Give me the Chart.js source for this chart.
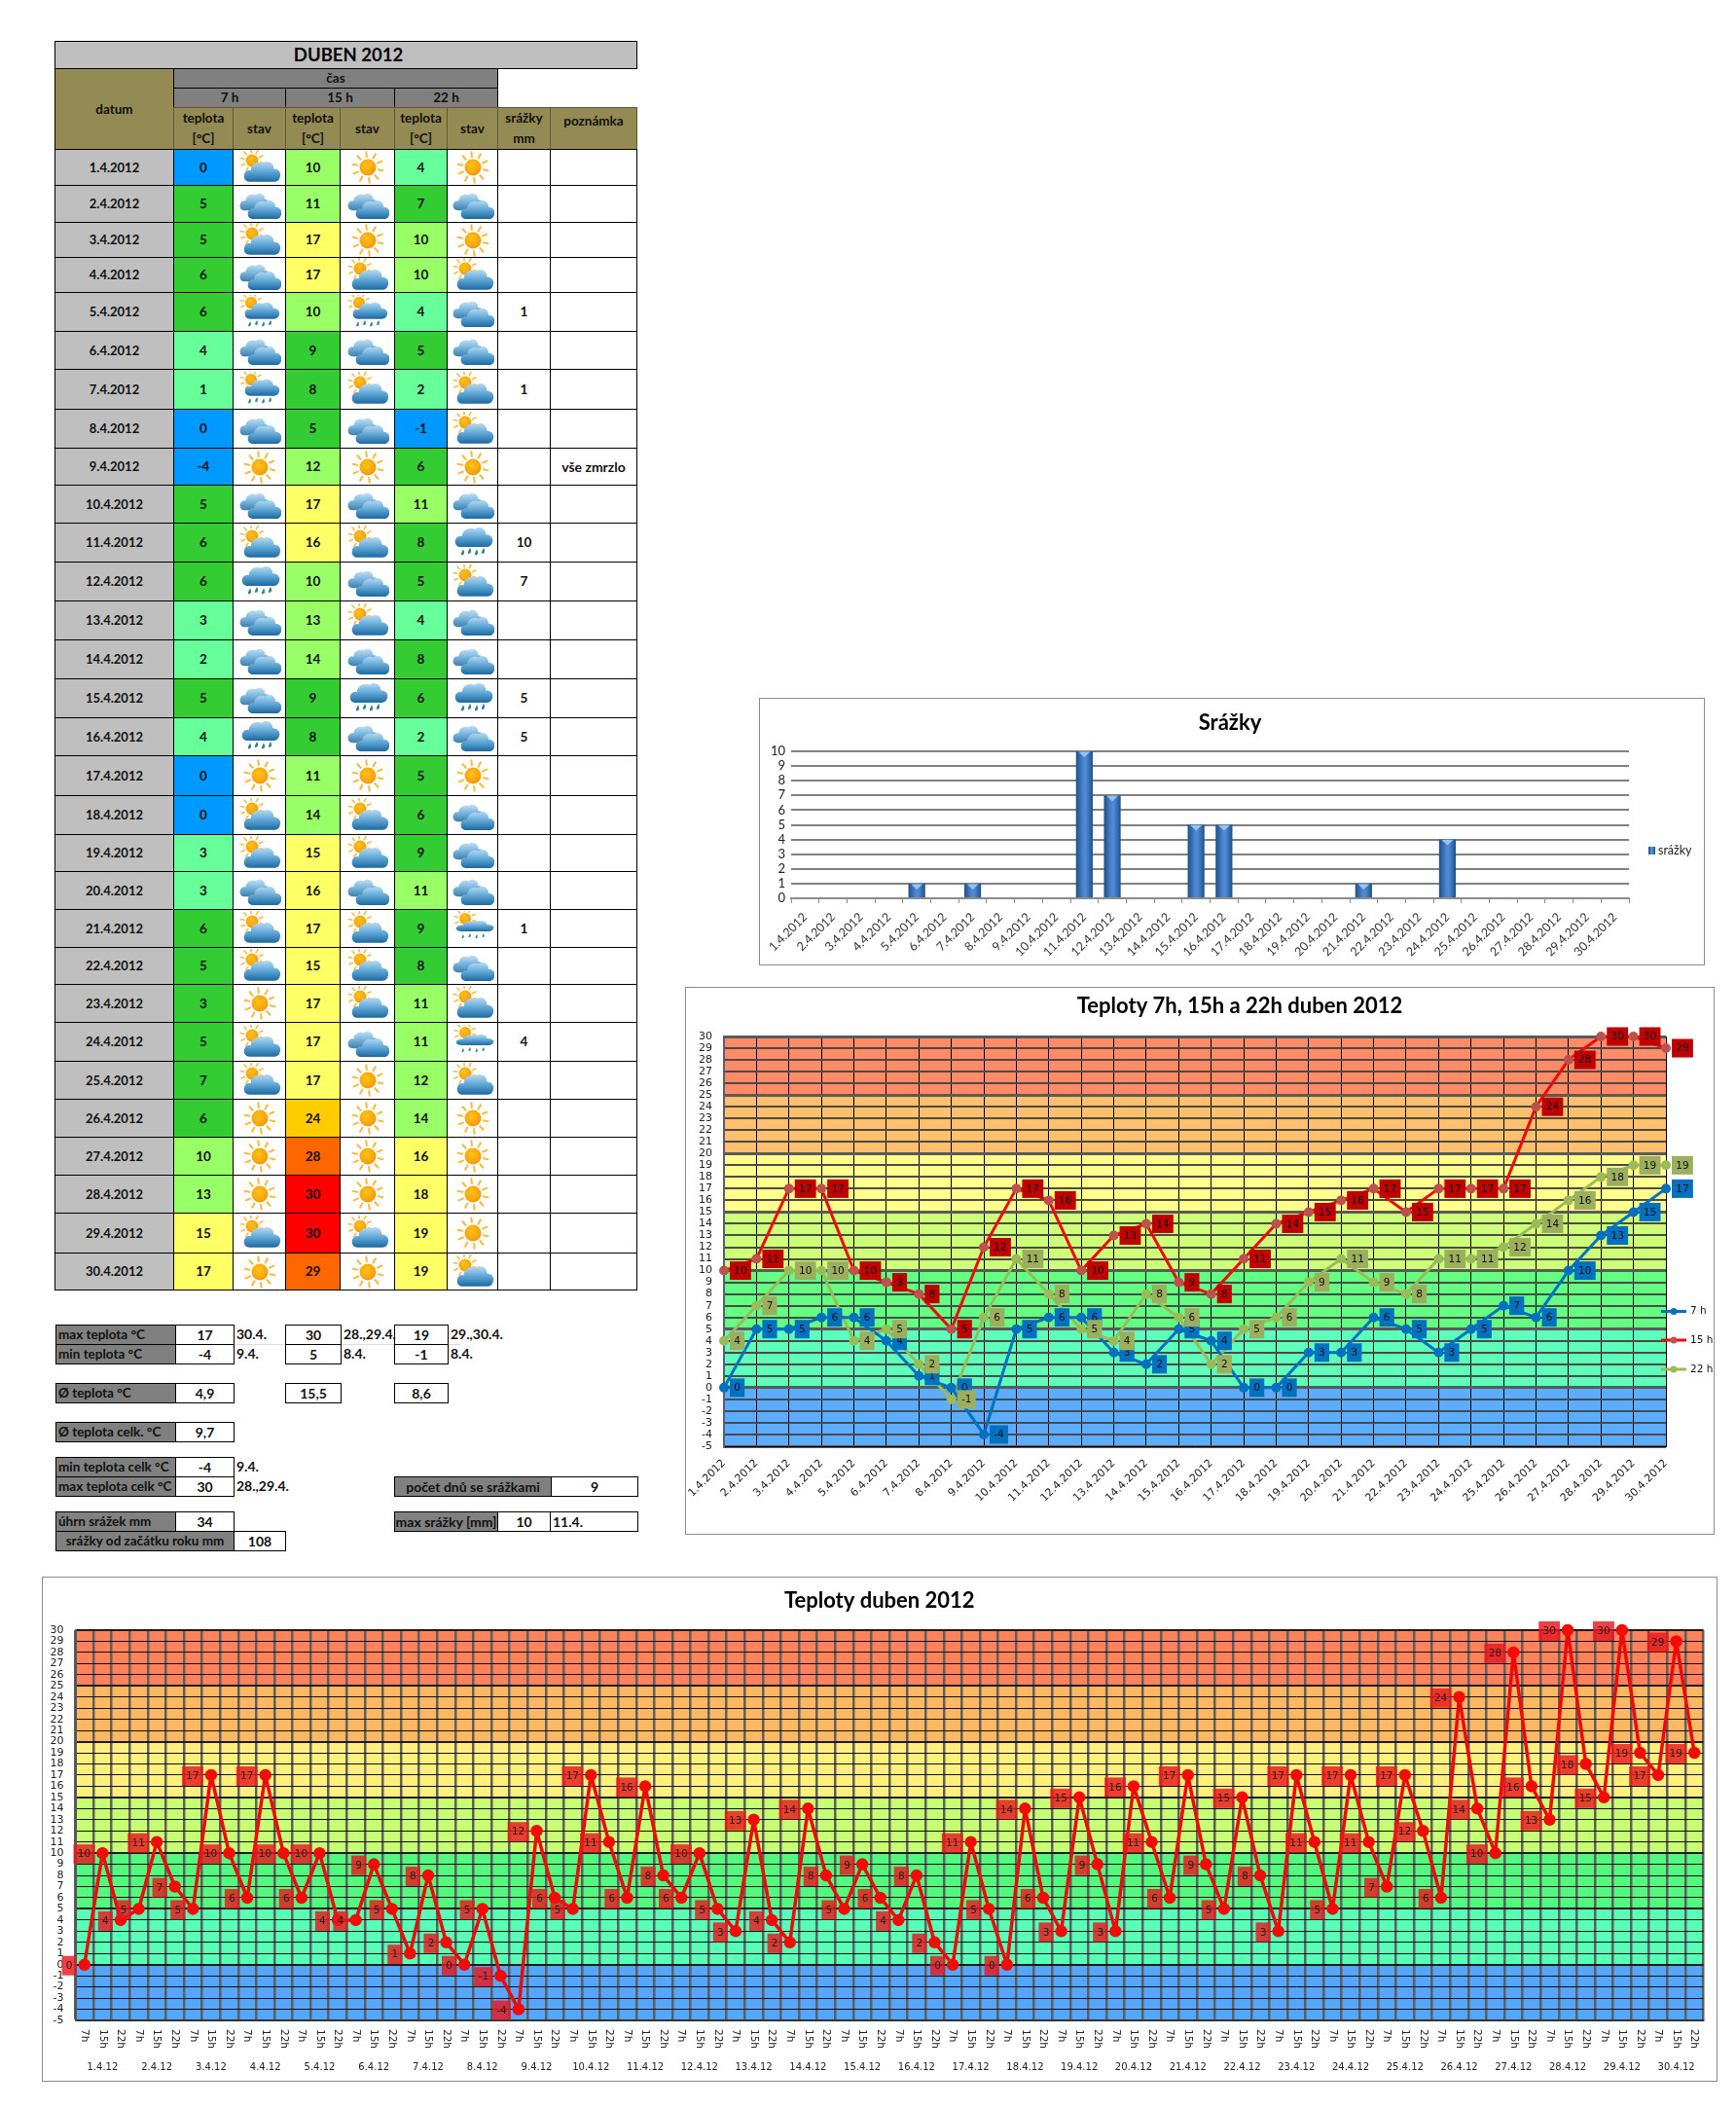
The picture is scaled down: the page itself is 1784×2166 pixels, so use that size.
<!DOCTYPE html>
<html lang="cs"><head><meta charset="utf-8"><title>Duben 2012</title>
<script src="https://cdn.jsdelivr.net/npm/chart.js@4"></script>
<style>
html,body{margin:0;padding:0;background:#fff}
#page{position:relative;width:1784px;height:2166px;overflow:hidden;font-family:Lato,sans-serif;color:#111}
.c{position:absolute;box-sizing:border-box;border:1px solid #000;display:flex;align-items:center;justify-content:center;text-align:center;font-weight:700;font-size:14px;line-height:21px;overflow:hidden;white-space:nowrap}
.t{position:absolute;font-weight:700;font-size:14px;line-height:20px;white-space:nowrap}
.c svg{display:block}
.box{position:absolute;box-sizing:border-box;border:1px solid #8c8c8c;background:#fff}
.box canvas{position:absolute;left:-1px;top:-1px}
</style></head><body><div id="page">
<svg width="0" height="0" style="position:absolute"><defs>
<radialGradient id="sg" cx=".42" cy=".38" r=".7"><stop offset="0" stop-color="#FFC21A"/><stop offset=".7" stop-color="#F9A40B"/><stop offset="1" stop-color="#E98A08"/></radialGradient>
<linearGradient id="cg" x1="0" y1="0" x2="0" y2="1"><stop offset="0" stop-color="#B6DBF2"/><stop offset=".5" stop-color="#5FA6D6"/><stop offset="1" stop-color="#1B689F"/></linearGradient>
<path id="cl" d="M7 24C2 24 0 20 1 16C2 12 6 11 8 12C8 5 16 1 21 4C26 0 33 3 33 10C38 10 41 14 40 18C39 23 36 24 33 24Z" fill="url(#cg)"/>
</defs></svg>
</div>
<script>
// ---------- data ----------
const days = ['1.4.2012','2.4.2012','3.4.2012','4.4.2012','5.4.2012','6.4.2012','7.4.2012','8.4.2012','9.4.2012','10.4.2012','11.4.2012','12.4.2012','13.4.2012','14.4.2012','15.4.2012','16.4.2012','17.4.2012','18.4.2012','19.4.2012','20.4.2012','21.4.2012','22.4.2012','23.4.2012','24.4.2012','25.4.2012','26.4.2012','27.4.2012','28.4.2012','29.4.2012','30.4.2012'];
const shortDays = ['1.4.12','2.4.12','3.4.12','4.4.12','5.4.12','6.4.12','7.4.12','8.4.12','9.4.12','10.4.12','11.4.12','12.4.12','13.4.12','14.4.12','15.4.12','16.4.12','17.4.12','18.4.12','19.4.12','20.4.12','21.4.12','22.4.12','23.4.12','24.4.12','25.4.12','26.4.12','27.4.12','28.4.12','29.4.12','30.4.12'];
const temp7  = [0,5,5,6,6,4,1,0,-4,5,6,6,3,2,5,4,0,0,3,3,6,5,3,5,7,6,10,13,15,17];
const temp15 = [10,11,17,17,10,9,8,5,12,17,16,10,13,14,9,8,11,14,15,16,17,15,17,17,17,24,28,30,30,29];
const temp22 = [4,7,10,10,4,5,2,-1,6,11,8,5,4,8,6,2,5,6,9,11,9,8,11,11,12,14,16,18,19,19];
const rainfall = [0,0,0,0,1,0,1,0,0,0,10,7,0,0,5,5,0,0,0,0,1,0,0,4,0,0,0,0,0,0];
const allReadings = [0,10,4,5,11,7,5,17,10,6,17,10,6,10,4,4,9,5,1,8,2,0,5,-1,-4,12,6,5,17,11,6,16,8,6,10,5,3,13,4,2,14,8,5,9,6,4,8,2,0,11,5,0,14,6,3,15,9,3,16,11,6,17,9,5,15,8,3,17,11,5,17,11,7,17,12,6,24,14,10,28,16,13,30,18,15,30,19,17,29,19];
const hourLabels = ['7h','15h','22h'];
const sky7  = ['P','C','P','C','R','C','R','C','S','C','P','D','C','C','C','D','S','P','P','C','P','P','S','P','P','S','S','S','P','S'];
const sky15 = ['S','C','S','P','R','C','P','C','S','C','P','C','P','C','D','C','S','P','P','C','P','P','P','C','S','S','S','S','P','S'];
const sky22 = ['S','C','S','P','C','C','P','P','S','C','D','P','C','C','D','C','S','C','C','C','L','C','P','L','P','S','S','S','S','P'];
const yTicks = [-5,30];
const rainTicks = [0,10];

// ---------- layout ----------
const page = document.getElementById('page');
const rowY = [153,190,228,264,300,340,379,420,460,498,537,577,617,657,697,737,776,817,857,895,934,973,1011,1050,1090,1129,1168,1207,1246,1287,1325];
const colX = [56,178,239,293,349,405,459,511,565,654];
const GREY='#BFBFBF', OLIVE='#948A54', DARK='#808080';

function cell(x1,y1,x2,y2,html,o={}){
  const d=document.createElement('div');d.className='c';
  d.style.cssText=`left:${x1}px;top:${y1}px;width:${x2-x1+1}px;height:${y2-y1+1}px;`+
    (o.bg?`background:${o.bg};`:'')+(o.size?`font-size:${o.size}px;`:'')+(o.border?`border-color:${o.border};`:'')+(o.css||'');
  d.innerHTML=html;page.appendChild(d);return d;
}
function note(x,y,s){const d=document.createElement('div');d.className='t';d.style.left=x+'px';d.style.top=y+'px';d.textContent=s;page.appendChild(d);}
function sun(cx,cy,r){
  let s='';
  for(let a=0;a<10;a++){const t=(a*36+12)*Math.PI/180,c=Math.cos(t),n=Math.sin(t);
    s+=`<path d="M${cx+c*(r*1.3)} ${cy+n*(r*1.3)}L${cx+c*(r*1.85)} ${cy+n*(r*1.85)}" stroke="#F6BC43" stroke-width="${r*.25}" stroke-linecap="round"/>`;}
  return s+`<circle cx="${cx}" cy="${cy}" r="${r}" fill="url(#sg)"/>`;
}
function drops(y,k){
  let s='';
  [[12,1],[19,0],[26,1],[33,0]].forEach(([x,d])=>{const yy=y+d*k*1.5;
    s+=`<path d="M${x} ${yy}C${x+2*k} ${yy+3*k} ${x+1*k} ${yy+6*k} ${x-1.5*k} ${yy+6*k}C${x-3*k} ${yy+5*k} ${x-1*k} ${yy+2*k} ${x} ${yy}Z" fill="#2E8486"/>`;});
  return s;
}
function icon(code){
  let s='';
  if(code==='S') s=sun(22,18,8.5);
  if(code==='P') s=sun(14,11,6.5)+'<use href="#cl" transform="translate(5,10) scale(.95)"/>';
  if(code==='C') s='<use href="#cl" transform="translate(1,5) scale(.8)" opacity=".85"/><use href="#cl" transform="translate(9,12) scale(.88)"/>';
  if(code==='D') s='<use href="#cl" transform="translate(3,0) scale(.98,.92)"/>'+drops(23,1);
  if(code==='R') s=sun(13,8,6)+'<use href="#cl" transform="translate(6,6) scale(.9,.78)"/>'+drops(26,.85);
  if(code==='L') s=sun(14,8,6)+'<use href="#cl" transform="translate(4,9) scale(.98,.5)"/>'+drops(23,.7);
  return `<svg width="44" height="36" viewBox="0 0 44 36">${s}</svg>`;
}
function tempColor(v){
  if(v<=0) return '#0099FF';
  if(v<5) return '#66FF99';
  if(v<10) return '#33CC33';
  if(v<15) return '#99FF66';
  if(v<20) return '#FFFF66';
  if(v<25) return '#FFCC00';
  if(v<30) return '#FF6600';
  return '#FF0000';
}
// header
cell(56,42,654,70,'DUBEN 2012',{bg:GREY,size:18.5,css:'color:#000;padding-left:5px'});
cell(56,70,178,153,'datum',{bg:OLIVE,size:13.5});
cell(178,70,511,90,'čas',{bg:DARK,size:13.5});
cell(178,90,293,110,'7 h',{bg:DARK,size:13.5});
cell(293,90,405,110,'15 h',{bg:DARK,size:13.5});
cell(405,90,511,110,'22 h',{bg:DARK,size:13.5});
[[178,239,'teplota<br>[°C]'],[239,293,'stav'],[293,349,'teplota<br>[°C]'],[349,405,'stav'],[405,459,'teplota<br>[°C]'],[459,511,'stav'],[511,565,'srážky<br>mm'],[565,654,'poznámka']].forEach(([a,b,t],i)=>{
  cell(a,110,b,153,t,{bg:OLIVE,border:'#5e5833',size:13.5,css:i===7?'align-items:flex-start;padding-top:3px':''});
});
// rows
days.forEach((d,i)=>{
  const y1=rowY[i],y2=rowY[i+1];
  cell(colX[0],y1,colX[1],y2,d,{bg:GREY,size:13});
  const c7 = i===22 ? '#33CC33' : tempColor(temp7[i]);
  cell(colX[1],y1,colX[2],y2,temp7[i],{bg:c7,size:13.5});
  cell(colX[2],y1,colX[3],y2,icon(sky7[i]));
  cell(colX[3],y1,colX[4],y2,temp15[i],{bg:tempColor(temp15[i]),size:13.5});
  cell(colX[4],y1,colX[5],y2,icon(sky15[i]));
  cell(colX[5],y1,colX[6],y2,temp22[i],{bg:tempColor(temp22[i]),size:13.5});
  cell(colX[6],y1,colX[7],y2,icon(sky22[i]));
  cell(colX[7],y1,colX[8],y2,rainfall[i]||'',{size:13.5});
  cell(colX[8],y1,colX[9],y2,i===8?'vše zmrzlo':'');
});
// summary block
const L=57,M=180,R=240;
function stat(y,label,val){cell(L,y,M,y+20,label,{bg:DARK,size:13.5,css:'justify-content:flex-start;padding-left:2px'});cell(M,y,R,y+20,val);}
const faint=document.createElement('div');faint.style.cssText='position:absolute;left:240px;top:1381px;width:233px;height:1px;background:#ddd';page.appendChild(faint);
stat(1361,'max teplota °C','17');note(243,1361,'30.4.');
cell(293,1361,350,1381,'30');note(353,1361,'28.,29.4.');
cell(405,1361,460,1381,'19');note(463,1361,'29.,30.4.');
stat(1381,'min teplota °C','-4');note(243,1381,'9.4.');
cell(293,1381,350,1401,'5');note(353,1381,'8.4.');
cell(405,1381,460,1401,'-1');note(463,1381,'8.4.');
stat(1421,'Ø teplota °C','4,9');
cell(293,1421,350,1441,'15,5');
cell(405,1421,460,1441,'8,6');
stat(1461,'Ø teplota celk. °C','9,7');
stat(1497,'min teplota celk °C','-4');note(243,1497,'9.4.');
stat(1517,'max teplota celk °C','30');note(243,1517,'28.,29.4.');
cell(405,1517,566,1537,'počet dnů se srážkami',{bg:DARK});
cell(566,1517,655,1537,'9');
stat(1553,'úhrn srážek  mm','34');
cell(L,1573,R,1593,'srážky od začátku roku mm',{bg:DARK,size:13.5});
cell(R,1573,293,1593,'108');
cell(405,1553,511,1573,'max srážky [mm]',{bg:DARK});
cell(511,1553,565,1573,'10');
cell(565,1553,655,1573,'11.4.',{css:'justify-content:flex-start;padding-left:2px'});

// ---------- chart helpers ----------
function makeCanvas(x1,y1,x2,y2){
  const b=document.createElement('div');b.className='box';
  b.style.cssText=`left:${x1}px;top:${y1}px;width:${x2-x1}px;height:${y2-y1}px`;
  const c=document.createElement('canvas');c.width=x2-x1;c.height=y2-y1;
  b.appendChild(c);page.appendChild(b);return c;
}
const tempBands2=[[-5,0,'#5CADFF'],[0,5,'#5EFFBA'],[5,10,'#62FF82'],[10,15,'#CEFF78'],[15,20,'#FFFF8C'],[20,25,'#FFC06E'],[25,30,'#FF8C66']];
const tempBands3=[[-5,0,'#55A6FF'],[0,5,'#57FFB7'],[5,10,'#52F97E'],[10,15,'#C6FF72'],[15,20,'#FFEF7C'],[20,25,'#FFB862'],[25,30,'#FF825A']];
const bandsPlugin={id:'bands',beforeDraw(ch,a,o){
  if(!o.list) return;
  const {left,right}=ch.chartArea,y=ch.scales.y,g=ch.ctx;
  g.save();
  o.list.forEach(([lo,hi,col])=>{const t=y.getPixelForValue(hi),b=y.getPixelForValue(lo);g.fillStyle=col;g.fillRect(left,t,right-left,b-t);});
  g.restore();
}};
const labelPlugin={id:'boxLabels',afterDatasetsDraw(ch,a,o){
  if(!o.mode) return;
  const g=ch.ctx;g.save();
  g.font=`${o.size||10}px "DejaVu Sans"`;g.textBaseline='middle';g.textAlign='center';
  ch.data.datasets.forEach((ds,di)=>{
    const m=ch.getDatasetMeta(di);
    m.data.forEach((pt,i)=>{
      const t=String(ds.data[i]),w=g.measureText(t).width+8.5,h=o.h||19;
      const x=o.mode==='right'?pt.x+6:pt.x-8-w;
      const yc=pt.y+(o.dy||0);
      g.fillStyle=ds.labelBox;g.fillRect(x,yc-h/2,w,h);
      g.fillStyle=o.ink||'#111';g.fillText(t,x+w/2,yc+.5);
    });
  });
  g.restore();
}};
const lineLegend={id:'lineLegend',afterDraw(ch,a,o){
  if(!o.items) return;
  const g=ch.ctx;g.save();g.font='10.5px "DejaVu Sans"';g.textBaseline='middle';g.fillStyle='#111';
  ch.data.datasets.forEach((ds,i)=>{
    const y=o.items[i],x=o.x;
    g.strokeStyle=ds.borderColor;g.lineWidth=3;g.beginPath();g.moveTo(x,y);g.lineTo(x+26,y);g.stroke();
    g.fillStyle=ds.pointBackgroundColor;g.beginPath();g.arc(x+13,y,3.5,0,7);g.fill();
    g.fillStyle='#111';g.fillText(ds.label,x+30,y);
  });
  g.restore();
}};
const titleShift={id:'titleShift',afterLayout(ch,a,o){if(o.dx&&ch.titleBlock){ch.titleBlock.left+=o.dx;ch.titleBlock.right+=o.dx;}}};
const hourAxis={id:'hourAxis',afterDraw(ch,a,o){
  if(!o.show) return;
  const s=ch.scales.x,g=ch.ctx;g.save();g.font='10.5px "DejaVu Sans"';g.fillStyle='#222';g.textAlign='left';g.textBaseline='middle';
  s.ticks.forEach((t,i)=>{g.save();g.translate(s.getPixelForValue(i),s.top+9);g.rotate(Math.PI/2);g.fillText(s.getLabelForValue(t.value),0,0);g.restore();});
  g.restore();
}};
const barSide={id:'barCaps',afterDatasetsDraw(ch,a,o){
  if(!o.show) return;
  const g=ch.ctx,m=ch.getDatasetMeta(0);g.save();
  m.data.forEach((b,i)=>{ if(!rainfall[i]) return;
    g.fillStyle='rgba(150,200,240,.95)';g.beginPath();g.moveTo(b.x-6,b.y+.5);g.lineTo(b.x+6,b.y+.5);g.lineTo(b.x,b.y+6);g.closePath();g.fill();
  });
  const x=o.legendX,y=o.legendY;
  const gr=g.createLinearGradient(x,0,x+7,0);gr.addColorStop(0,'#1F4F8A');gr.addColorStop(.5,'#5B96D6');gr.addColorStop(1,'#1F4F8A');
  g.fillStyle=gr;g.fillRect(x,y-4,7,8);
  g.font='12.5px Lato';g.fillStyle='#222';g.textBaseline='middle';g.fillText(ch.data.datasets[0].label,x+10,y);
  g.restore();
}};
Chart.register(bandsPlugin,labelPlugin,lineLegend,titleShift,hourAxis,barSide);
function fixY(w){return s=>{s.width=w;s.paddingTop=0;s.paddingBottom=0;};}
function fixX(h){return s=>{s.height=h;s.paddingLeft=0;s.paddingRight=0;};}
const titleCfg=(text,top,bottom,size)=>({display:true,text,font:{family:'Lato',size:size||22,weight:'700',lineHeight:1},color:'#000',padding:{top,bottom}});

// ---------- rainfall bars ----------
new Chart(makeCanvas(780,717,1752,992),{
  type:'bar',
  data:{labels:days,datasets:[{label:'srážky',data:rainfall,barPercentage:.6,categoryPercentage:1,
    backgroundColor(ctx){
      const c=ctx.chart,sx=c.scales&&c.scales.x,x=sx?sx.getPixelForValue(ctx.dataIndex):NaN;
      if(!Number.isFinite(x)) return '#2F6CB2';
      const g=c.ctx.createLinearGradient(x-9,0,x+9,0);
      g.addColorStop(0,'#1D4C87');g.addColorStop(.45,'#4C89D0');g.addColorStop(.6,'#4C89D0');g.addColorStop(1,'#1D4C87');return g;
    }}]},
  options:{responsive:false,animation:false,layout:{padding:{right:78,left:0,top:0,bottom:0}},
    plugins:{legend:{display:false},tooltip:{enabled:false},title:titleCfg('Srážky',15,18),titleShift:{dx:37},barCaps:{show:true,legendX:914,legendY:157}},
    scales:{
      x:{afterFit:fixX(69),offset:true,grid:{offset:true,drawOnChartArea:false,color:'#8c8c8c',lineWidth:1,tickLength:5},border:{color:'#8c8c8c',width:2},
         ticks:{autoSkip:false,minRotation:45,maxRotation:45,padding:7,color:'#333',font:{family:'Lato',size:12.5}}},
      y:{afterFit:fixY(33),min:rainTicks[0],max:rainTicks[1],grid:{color:'#808080',lineWidth:2,drawTicks:false},border:{display:false},
         ticks:{stepSize:1,autoSkip:false,padding:6,color:'#222',font:{family:'Lato',size:13}}}
    }}
});

// ---------- temperatures 7h / 15h / 22h ----------
function seriesCfg(label,data,line,pt,box){return {label,data,borderColor:line,backgroundColor:pt,pointBackgroundColor:pt,pointBorderColor:pt,pointRadius:3.5,borderWidth:3,borderJoinStyle:'round',tension:0,clip:false,labelBox:box};}
new Chart(makeCanvas(704,1014,1762,1577),{
  type:'line',
  data:{labels:days,datasets:[
    seriesCfg('7 h',temp7,'#0070C0','#0070C0','#0070C0'),
    seriesCfg('15 h',temp15,'#EE0A0A','#C0504D','#C00000'),
    seriesCfg('22 h',temp22,'#9BBB59','#9BBB59','#9BAF5E')]},
  options:{responsive:false,animation:false,layout:{padding:{right:50,left:0,top:0,bottom:0}},
    plugins:{legend:{display:false},tooltip:{enabled:false},title:titleCfg('Teploty 7h, 15h a 22h duben 2012',9,20),titleShift:{dx:66},
      bands:{list:tempBands2},boxLabels:{mode:'right',size:10.5,h:19},lineLegend:{items:[333.5,363,393],x:1003}},
    scales:{
      x:{afterFit:fixX(91),offset:false,grid:{color:'#000',lineWidth:1,drawTicks:false},border:{color:'#000'},
         ticks:{autoSkip:false,minRotation:45,maxRotation:45,padding:11,color:'#222',font:{family:'"DejaVu Sans"',size:11}}},
      y:{afterFit:fixY(40),min:yTicks[0],max:yTicks[1],
         grid:{color:c=>c.tick.value%5===0?'#5a5a5a':'#4a4a4a',lineWidth:c=>c.tick.value%5===0?3:2,drawTicks:false},border:{color:'#5a5a80',width:2},
         ticks:{stepSize:1,autoSkip:false,padding:12,color:'#222',font:{family:'"DejaVu Sans"',size:11}}}
    }}
});

// ---------- all readings ----------
const readingLabels=[];shortDays.forEach(()=>hourLabels.forEach(h=>readingLabels.push(h)));
new Chart(makeCanvas(43,1620,1765,2139),{
  type:'line',
  data:{labels:readingLabels,datasets:[{label:'Teploty',data:allReadings,xAxisID:'x',borderColor:'#EE0A0A',backgroundColor:'#F50A0A',pointBackgroundColor:'#F50A0A',pointBorderColor:'#F50A0A',pointRadius:4.5,borderWidth:3.5,borderJoinStyle:'round',tension:0,clip:false,labelBox:'rgba(236,22,28,.82)'}]},
  options:{responsive:false,animation:false,layout:{padding:{right:14.5,left:0,top:0,bottom:0}},
    plugins:{legend:{display:false},tooltip:{enabled:false},title:titleCfg('Teploty duben 2012',14,19),titleShift:{dx:7},
      bands:{list:tempBands3},boxLabels:{mode:'left',size:10.5,h:20,dy:1,ink:'#222'},hourAxis:{show:true}},
    scales:{
      x:{afterFit:fixX(37),offset:true,weight:0,grid:{offset:true,color:'#5f5f5f',lineWidth:2.5,drawTicks:false},border:{color:'#333',width:2},
         ticks:{display:false,autoSkip:false}},
      x2:{type:'category',labels:shortDays,position:'bottom',offset:true,weight:1,afterFit:fixX(26),grid:{display:false,drawTicks:false},border:{display:false},
         ticks:{autoSkip:false,minRotation:0,maxRotation:0,padding:5,color:'#222',font:{family:'"DejaVu Sans"',size:10}}},
      y:{afterFit:fixY(34.5),min:yTicks[0],max:yTicks[1],
         grid:{color:c=>c.tick.value%5===0?'#1a1a1a':'#111',lineWidth:c=>c.tick.value%5===0?2:1,drawTicks:false},border:{color:'#555',width:2},
         ticks:{stepSize:1,autoSkip:false,padding:12,color:'#222',font:{family:'"DejaVu Sans"',size:11}}}
    }}
});
</script></body></html>
